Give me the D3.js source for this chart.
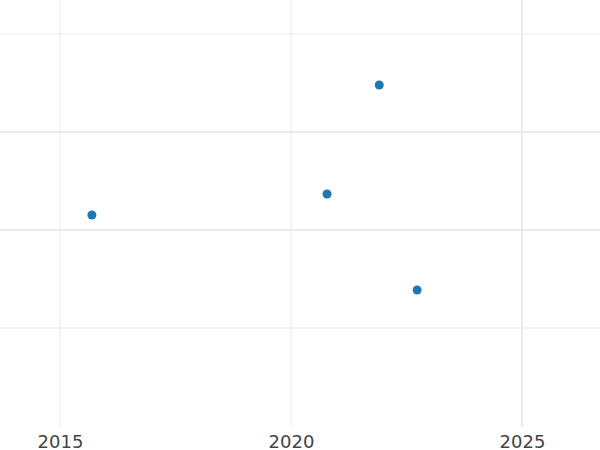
<!DOCTYPE html>
<html>
<head>
<meta charset="utf-8">
<script src="https://cdn.jsdelivr.net/npm/d3@7"></script>
<style>
html, body { margin: 0; padding: 0; background: #fff; }
svg { display: block; }
</style>
</head>
<body>
<svg id="chart" width="600" height="450"></svg>
<script>
const years = [2015.69, 2020.78, 2021.91, 2022.73];
const values = [1.153, 1.367, 2.48, 0.388];
const xTicks = [2015, 2020, 2025];
const yTicks = [0, 1, 2, 3];

const svg = d3.select("#chart");
const W = 600, H = 450, plotBottom = 427;

const x = d3.scaleLinear().domain([2015, 2025]).range([60, 522]);
const y = d3.scaleLinear().domain([0, 1]).range([328, 230]);

const grid = svg.append("g");
grid.selectAll("line.h").data(yTicks).join("line")
  .attr("x1", 0).attr("x2", W)
  .attr("y1", d => y(d)).attr("y2", d => y(d))
  .attr("stroke", "#ebebeb")
  .attr("stroke-width", d => (d === 1 || d === 2) ? 2 : 1);
grid.selectAll("line.v").data(xTicks).join("line")
  .attr("x1", d => x(d)).attr("x2", d => x(d))
  .attr("y1", 0).attr("y2", plotBottom)
  .attr("stroke", "#ebebeb")
  .attr("stroke-width", d => d === 2025 ? 2 : 1);

const xAxis = d3.axisBottom(x).tickValues(xTicks).tickFormat(d3.format("d")).tickSize(0).tickPadding(0);
const ax = svg.append("g").attr("transform", `translate(0,${plotBottom})`).call(xAxis);
ax.select(".domain").remove();
ax.selectAll("text")
  .attr("dy", null)
  .attr("y", 20.5)
  .attr("font-family", "DejaVu Sans")
  .attr("font-size", 18)
  .attr("fill", "#444");

svg.append("g").selectAll("circle").data(years).join("circle")
  .attr("cx", (d) => x(d))
  .attr("cy", (d, i) => y(values[i]))
  .attr("r", 4.5)
  .attr("fill", "#1f77b4");
</script>
</body>
</html>
